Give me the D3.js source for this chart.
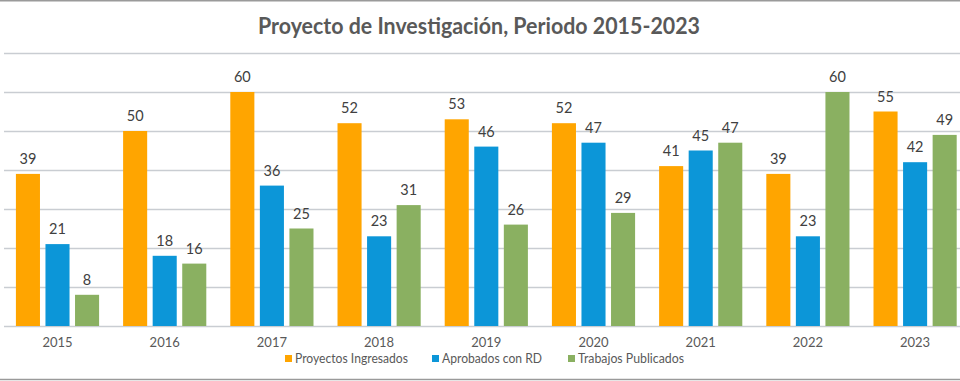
<!DOCTYPE html>
<html><head><meta charset="utf-8">
<script src="https://cdn.jsdelivr.net/npm/d3@7"></script>
<style>body{margin:0;background:#fff}svg{display:block}</style>
</head><body>
<svg id="c" width="960" height="381"></svg>
<script>
const years = ["2015","2016","2017","2018","2019","2020","2021","2022","2023"];
const seriesNames = ["Proyectos Ingresados","Aprobados con RD","Trabajos Publicados"];
const proyectos = [39,50,60,52,53,52,41,39,55];
const aprobados = [21,18,36,23,46,47,45,23,42];
const trabajos  = [8,16,25,31,26,29,47,60,49];
const yTicks = [0,10,20,30,40,50,60,70];
const colors = ["#FFA500","#0C96D8","#8AB061"];
const title = "Proyecto de Investigación, Periodo 2015-2023";

const series = [proyectos, aprobados, trabajos];
const svg = d3.select("#c");
const font = "Lato, 'Open Sans', sans-serif";

// borders
svg.append("rect").attr("x",0).attr("y",0).attr("width",960).attr("height",381).attr("fill","#fff");
svg.append("line").attr("x1",0).attr("x2",960).attr("y1",0.5).attr("y2",0.5).attr("stroke","#9a9a9a").attr("stroke-width",2);
svg.append("line").attr("x1",0).attr("x2",960).attr("y1",379.5).attr("y2",379.5).attr("stroke","#9a9a9a").attr("stroke-width",1.5);

const x0 = d3.scaleBand().domain(years).range([3.9, 968.7]).paddingInner(0.224).paddingOuter(0.112);
const x1 = d3.scaleBand().domain(d3.range(3)).range([0, x0.bandwidth()]).paddingInner(0.186).paddingOuter(0);
const y = d3.scaleLinear().domain([0,70]).range([326,53]);

// gridlines
svg.append("g").selectAll("line").data(yTicks).join("line")
  .attr("x1",4).attr("x2",960)
  .attr("y1",d=>Math.round(y(d))+0.5).attr("y2",d=>Math.round(y(d))+0.5)
  .attr("stroke","#c9cdd2").attr("stroke-width",1.3);

// bars
const groups = svg.append("g").selectAll("g").data(years).join("g")
  .attr("transform",d=>`translate(${x0(d)},0)`);
groups.each(function(yr, i){
  const g = d3.select(this);
  series.forEach((s, k)=>{
    g.append("rect")
      .attr("x", x1(k)).attr("width", x1.bandwidth())
      .attr("y", y(s[i])).attr("height", y(0)-y(s[i]))
      .attr("fill", colors[k]);
    g.append("text")
      .attr("x", x1(k)+x1.bandwidth()/2).attr("y", y(s[i])-10)
      .attr("text-anchor","middle").attr("font-family",font).attr("font-size",14.5)
      .attr("fill","#404040").text(s[i]);
  });
});

// x axis labels
svg.append("g").selectAll("text").data(years).join("text")
  .attr("x",d=>x0(d)+x0.bandwidth()/2).attr("y",347)
  .attr("text-anchor","middle").attr("font-family",font).attr("font-size",13)
  .attr("fill","#595959").text(d=>d);

// title
svg.append("text").attr("x",479).attr("y",34).attr("text-anchor","middle")
  .attr("font-family",font).attr("font-weight",700).attr("font-size",22)
  .attr("fill","#595959").attr("textLength",442).attr("lengthAdjust","spacingAndGlyphs")
  .text(title);

// legend
const legX = [285, 432, 568];
const legW = [113, 100, 106];
const leg = svg.append("g").selectAll("g").data(seriesNames).join("g")
  .attr("transform",(d,i)=>`translate(${legX[i]},0)`);
leg.append("rect").attr("x",0).attr("y",355).attr("width",7).attr("height",7).attr("fill",(d,i)=>colors[i]);
leg.append("text").attr("x",10).attr("y",363).attr("font-family",font).attr("font-size",13)
  .attr("fill","#595959").attr("textLength",(d,i)=>legW[i]).attr("lengthAdjust","spacingAndGlyphs").text(d=>d);
</script>
</body></html>
